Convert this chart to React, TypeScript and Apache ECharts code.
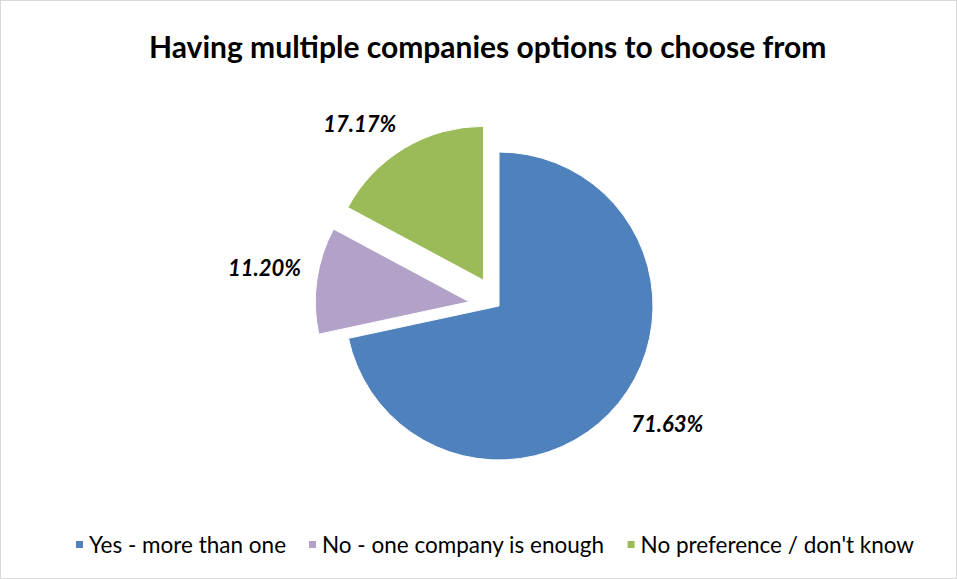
import React, { useEffect, useRef } from "react";
import * as echarts from "echarts";

const categories = ["Yes - more than one", "No - one company is enough", "No preference / don't know"];
const values = [71.63, 11.2, 17.17];
const colors = ["#4F81BD", "#B3A2C7", "#9BBB59"];
const exploded = [false, true, true];

const CX = 498;
const CY = 305;
const R = 154;
const OFFSET = 30;
const LABEL_GAP = 16;

export default function App() {
  const ref = useRef<HTMLDivElement>(null);
  useEffect(() => {
    document.body.style.margin = "0";
    const chart = echarts.init(ref.current!, null, { renderer: "svg" });
    const total = values.reduce((a, b) => a + b, 0);
    const mids: number[] = [];
    let acc = 0;
    values.forEach((v) => {
      mids.push(((acc + v / 2) / total) * Math.PI * 2);
      acc += v;
    });
    chart.setOption({
      animation: false,
      title: {
        text: "Having multiple companies options to choose from",
        left: 143,
        top: 25,
        textStyle: { fontFamily: "Lato", fontWeight: "bold", fontSize: 30, color: "#000" },
      },
      legend: {
        bottom: 17,
        left: 68,
        itemWidth: 9,
        itemHeight: 9,
        itemGap: 21,
        icon: "rect",
        textStyle: { fontFamily: "Lato", fontSize: 22.5, color: "#000" },
        selectedMode: false,
        data: categories.map((c, i) => ({ name: c, itemStyle: { color: colors[i] } })),
      },
      series: [
        {
          type: "pie",
          center: [CX, CY],
          radius: R,
          startAngle: 90,
          clockwise: true,
          selectedMode: "multiple",
          selectedOffset: OFFSET,
          emphasis: { disabled: true },
          itemStyle: { borderColor: "#fff", borderWidth: 1 },
          label: { show: false },
          labelLine: { show: false },
          data: categories.map((c, i) => ({
            name: c,
            value: values[i],
            selected: exploded[i],
            itemStyle: { color: colors[i] },
          })),
        },
        {
          type: "pie",
          center: [CX, CY],
          radius: R,
          startAngle: 90,
          clockwise: true,
          silent: true,
          emphasis: { disabled: true },
          itemStyle: { color: "rgba(0,0,0,0)" },
          label: {
            show: true,
            position: "outside",
            formatter: (p: any) => p.value.toFixed(2) + "%",
            fontFamily: "Lato",
            fontWeight: "bold",
            fontStyle: "italic",
            fontSize: 22,
            color: "#000",
          },
          labelLine: { show: false },
          labelLayout: (p: any) => {
            const i = p.dataIndex;
            const a = mids[i];
            const dx = Math.sin(a);
            const dy = -Math.cos(a);
            const off = exploded[i] ? OFFSET : 0;
            const d = R + LABEL_GAP + off;
            const x = CX + dx * d;
            const y = CY + dy * d;
            const align = Math.abs(dx) < 0.3 ? "center" : dx < 0 ? "right" : "left";
            const verticalAlign = dy < 0 ? "bottom" : "top";
            return { x, y, align, verticalAlign };
          },
          data: categories.map((c, i) => ({ name: c, value: values[i] })),
        },
      ],
    });
    return () => chart.dispose();
  }, []);
  return (
    <div
      ref={ref}
      style={{ width: 957, height: 579, border: "1px solid #d9d9d9", boxSizing: "border-box", background: "#fff" }}
    />
  );
}
